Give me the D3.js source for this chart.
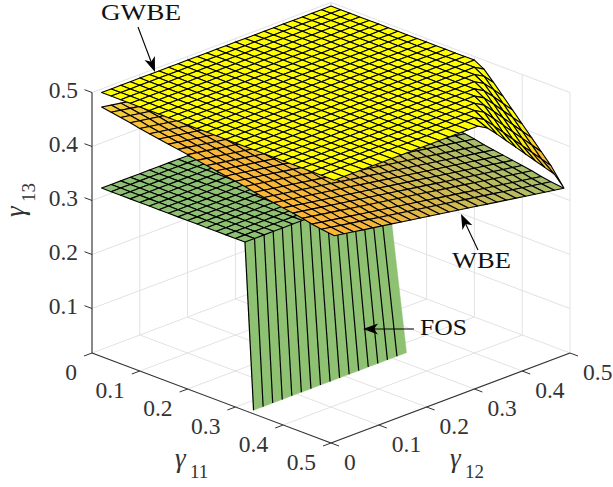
<!DOCTYPE html>
<html>
<head>
<meta charset="utf-8">
<script src="https://cdnjs.cloudflare.com/ajax/libs/d3/7.8.5/d3.min.js"></script>
<style>
  html, body { margin: 0; padding: 0; background: #fff; }
  svg { display: block; }
  text { font-family: "Liberation Serif", serif; }
</style>
</head>
<body>
<svg id="chart" width="613" height="487"></svg>
<script>
// grid of the three surfaces
const gamma11 = [.01,.03,.05,.07,.09,.11,.13,.15,.17,.19,.21,.23,.25,.27,.29,.31,.33,.35,.37,.39,.41,.43,.45,.47,.497];
const gamma12 = [.01,.03,.05,.07,.09,.11,.13,.15,.17,.19,.21,.23,.25,.27,.29,.31,.33,.35,.37,.39,.41,.43,.45,.47,.49];

const gamma11Ticks = [0, .1, .2, .3, .4, .5];
const gamma12Ticks = [0, .1, .2, .3, .4, .5];
const gamma13Ticks = [.1, .2, .3, .4, .5];
const gamma13Floor = .0176;

// rows follow gamma11, columns follow gamma12
const gwbe = [
[.5,.5,.5,.5,.5,.5,.5,.5,.5,.5,.5,.5,.5,.5,.5,.5,.5,.5,.5,.5,.5,.5,.5,.5,.5],
[.5,.5,.5,.5,.5,.5,.5,.5,.5,.5,.5,.5,.5,.5,.5,.5,.5,.5,.5,.5,.5,.5,.5,.5,.5],
[.5,.5,.5,.5,.5,.5,.5,.5,.5,.5,.5,.5,.5,.5,.5,.5,.5,.5,.5,.5,.5,.5,.5,.5,.5],
[.5,.5,.5,.5,.5,.5,.5,.5,.5,.5,.5,.5,.5,.5,.5,.5,.5,.5,.5,.5,.5,.5,.5,.5,.5],
[.5,.5,.5,.5,.5,.5,.5,.5,.5,.5,.5,.5,.5,.5,.5,.5,.5,.5,.5,.5,.5,.5,.5,.5,.5],
[.5,.5,.5,.5,.5,.5,.5,.5,.5,.5,.5,.5,.5,.5,.5,.5,.5,.5,.5,.5,.5,.5,.5,.5,.5],
[.5,.5,.5,.5,.5,.5,.5,.5,.5,.5,.5,.5,.5,.5,.5,.5,.5,.5,.5,.5,.5,.5,.5,.5,.5],
[.5,.5,.5,.5,.5,.5,.5,.5,.5,.5,.5,.5,.5,.5,.5,.5,.5,.5,.5,.5,.5,.5,.5,.5,.5],
[.5,.5,.5,.5,.5,.5,.5,.5,.5,.5,.5,.5,.5,.5,.5,.5,.5,.5,.5,.5,.5,.5,.5,.5,.5],
[.5,.5,.5,.5,.5,.5,.5,.5,.5,.5,.5,.5,.5,.5,.5,.5,.5,.5,.5,.5,.5,.5,.5,.5,.5],
[.5,.5,.5,.5,.5,.5,.5,.5,.5,.5,.5,.5,.5,.5,.5,.5,.5,.5,.5,.5,.5,.5,.5,.5,.5],
[.5,.5,.5,.5,.5,.5,.5,.5,.5,.5,.5,.5,.5,.5,.5,.5,.5,.5,.5,.5,.5,.5,.5,.5,.5],
[.5,.5,.5,.5,.5,.5,.5,.5,.5,.5,.5,.5,.5,.5,.5,.5,.5,.5,.5,.5,.5,.5,.5,.5,.5],
[.5,.5,.5,.5,.5,.5,.5,.5,.5,.5,.5,.5,.5,.5,.5,.5,.5,.5,.5,.5,.5,.5,.5,.5,.5],
[.5,.5,.5,.5,.5,.5,.5,.5,.5,.5,.5,.5,.5,.5,.5,.5,.5,.5,.5,.5,.5,.5,.5,.5,.5],
[.5,.5,.5,.5,.5,.5,.5,.5,.5,.5,.5,.5,.5,.5,.5,.5,.5,.5,.5,.5,.5,.5,.5,.5,.5],
[.5,.5,.5,.5,.5,.5,.5,.5,.5,.5,.5,.5,.5,.5,.5,.5,.5,.5,.5,.5,.5,.5,.5,.5,.49],
[.5,.5,.5,.5,.5,.5,.5,.5,.5,.5,.5,.5,.5,.5,.5,.5,.5,.5,.5,.5,.5,.5,.5,.49,.472],
[.5,.5,.5,.5,.5,.5,.5,.5,.5,.5,.5,.5,.5,.5,.5,.5,.5,.5,.5,.5,.5,.5,.49,.472,.453],
[.5,.5,.5,.5,.5,.5,.5,.5,.5,.5,.5,.5,.5,.5,.5,.5,.5,.5,.5,.5,.5,.49,.472,.453,.434],
[.5,.5,.5,.5,.5,.5,.5,.5,.5,.5,.5,.5,.5,.5,.5,.5,.5,.5,.5,.5,.49,.472,.453,.434,.415],
[.5,.5,.5,.5,.5,.5,.5,.5,.5,.5,.5,.5,.5,.5,.5,.5,.5,.5,.5,.49,.472,.453,.434,.415,.396],
[.5,.5,.5,.5,.5,.5,.5,.5,.5,.5,.5,.5,.5,.5,.5,.5,.5,.5,.49,.472,.453,.434,.415,.396,.377],
[.5,.5,.5,.5,.5,.5,.5,.5,.5,.5,.5,.5,.5,.5,.5,.5,.5,.49,.472,.453,.434,.415,.396,.377,.358],
[.5,.5,.5,.5,.5,.5,.5,.5,.5,.5,.5,.5,.5,.5,.5,.5,.49,.472,.453,.434,.415,.396,.377,.358,.326]
];

const wbe = [
[.473,.470,.467,.464,.461,.458,.455,.452,.449,.446,.443,.440,.437,.434,.431,.428,.425,.422,.419,.416,.413,.410,.407,.404,.401],
[.470,.467,.464,.461,.458,.455,.452,.449,.446,.443,.440,.437,.434,.431,.428,.425,.422,.419,.416,.413,.410,.407,.404,.401,.398],
[.467,.464,.461,.458,.455,.452,.449,.446,.443,.440,.437,.434,.431,.428,.425,.422,.419,.416,.413,.410,.407,.404,.401,.398,.395],
[.464,.461,.458,.455,.452,.449,.446,.443,.440,.437,.434,.431,.428,.425,.422,.419,.416,.413,.410,.407,.404,.401,.398,.395,.392],
[.460,.457,.454,.451,.448,.445,.442,.439,.436,.433,.430,.427,.424,.421,.418,.415,.412,.409,.406,.403,.400,.397,.394,.391,.388],
[.457,.454,.451,.448,.445,.442,.439,.436,.433,.430,.427,.424,.421,.418,.415,.412,.409,.406,.403,.400,.397,.394,.391,.388,.385],
[.454,.451,.448,.445,.442,.439,.436,.433,.430,.427,.424,.421,.418,.415,.412,.409,.406,.403,.400,.397,.394,.391,.388,.385,.382],
[.451,.448,.445,.442,.439,.436,.433,.430,.427,.424,.421,.418,.415,.412,.409,.406,.403,.400,.397,.394,.391,.388,.385,.382,.379],
[.448,.445,.442,.439,.436,.433,.430,.427,.424,.421,.418,.415,.412,.409,.406,.403,.400,.397,.394,.391,.388,.385,.382,.379,.376],
[.445,.442,.439,.436,.433,.430,.427,.424,.421,.418,.415,.412,.409,.406,.403,.400,.397,.394,.391,.388,.385,.382,.379,.376,.373],
[.441,.438,.435,.432,.429,.426,.423,.420,.417,.414,.411,.408,.405,.402,.399,.396,.393,.390,.387,.384,.381,.378,.375,.372,.369],
[.438,.435,.432,.429,.426,.423,.420,.417,.414,.411,.408,.405,.402,.399,.396,.393,.390,.387,.384,.381,.378,.375,.372,.369,.366],
[.435,.432,.429,.426,.423,.420,.417,.414,.411,.408,.405,.402,.399,.396,.393,.390,.387,.384,.381,.378,.375,.372,.369,.366,.363],
[.432,.429,.426,.423,.420,.417,.414,.411,.408,.405,.402,.399,.396,.393,.390,.387,.384,.381,.378,.375,.372,.369,.366,.363,.360],
[.429,.426,.423,.420,.417,.414,.411,.408,.405,.402,.399,.396,.393,.390,.387,.384,.381,.378,.375,.372,.369,.366,.363,.360,.357],
[.426,.423,.420,.417,.414,.411,.408,.405,.402,.399,.396,.393,.390,.387,.384,.381,.378,.375,.372,.369,.366,.363,.360,.357,.354],
[.422,.419,.416,.413,.410,.407,.404,.401,.398,.395,.392,.389,.386,.383,.380,.377,.374,.371,.368,.365,.362,.359,.356,.353,.350],
[.419,.416,.413,.410,.407,.404,.401,.398,.395,.392,.389,.386,.383,.380,.377,.374,.371,.368,.365,.362,.359,.356,.353,.350,.347],
[.416,.413,.410,.407,.404,.401,.398,.395,.392,.389,.386,.383,.380,.377,.374,.371,.368,.365,.362,.359,.356,.353,.350,.347,.344],
[.413,.410,.407,.404,.401,.398,.395,.392,.389,.386,.383,.380,.377,.374,.371,.368,.365,.362,.359,.356,.353,.350,.347,.344,.341],
[.410,.407,.404,.401,.398,.395,.392,.389,.386,.383,.380,.377,.374,.371,.368,.365,.362,.359,.356,.353,.350,.347,.344,.341,.338],
[.407,.404,.401,.398,.395,.392,.389,.386,.383,.380,.377,.374,.371,.368,.365,.362,.359,.356,.353,.350,.347,.344,.341,.338,.335],
[.403,.400,.397,.394,.391,.388,.385,.382,.379,.376,.373,.370,.367,.364,.361,.358,.355,.352,.349,.346,.343,.340,.337,.334,.331],
[.400,.397,.394,.391,.388,.385,.382,.379,.376,.373,.370,.367,.364,.361,.358,.355,.352,.349,.346,.343,.340,.337,.334,.331,.328],
[.397,.394,.391,.388,.385,.382,.379,.376,.373,.370,.367,.364,.361,.358,.355,.352,.349,.346,.343,.340,.337,.334,.331,.328,.325]
];

// FOS is a flat shelf that drops to the floor along a wall
const fosShelf = .323;
const fosShelfRows = 16;
const fosColumns = 17;
const fosWallTop = [.31,.31,.31,.309,.308,.307,.306,.305,.303,.301,.299,.297,.295,.293,.291,.289,.287];
const fosWallBottom = [.328,.328,.328,.328,.328,.328,.328,.328,.328,.328,.328,.328,.328,.328,.328,.328,.328];

const svg = d3.select("#chart");

// oblique view: left corner of the floor is (gamma11, gamma12) = (0, 0)
const corner = { x: 92, y: 353 };
const sideX = d3.scaleLinear().domain([0, .5]).range([0, 239]);
const sideY = d3.scaleLinear().domain([0, .5]).range([0, 90]);
const up = d3.scaleLinear().domain([gamma13Floor, .5]).range([0, 260.5]);
const px = (a, b, z) => [corner.x + sideX(a) + sideX(b), corner.y + sideY(a) - sideY(b) - up(z)];

const line = d3.line();
const seg = (g, p, q, color, w) => g.append("path").attr("d", line([p, q]))
  .attr("fill", "none").attr("stroke", color).attr("stroke-width", w);

// grid on floor and back walls
const grid = svg.append("g");
const gridColor = "#e2e2e2";
gamma11Ticks.forEach(a => {
  seg(grid, px(a, 0, gamma13Floor), px(a, .5, gamma13Floor), gridColor, 1);
  seg(grid, px(a, .5, gamma13Floor), px(a, .5, .5), gridColor, 1);
});
gamma12Ticks.forEach(b => {
  seg(grid, px(0, b, gamma13Floor), px(.5, b, gamma13Floor), gridColor, 1);
  seg(grid, px(0, b, gamma13Floor), px(0, b, .5), gridColor, 1);
});
gamma13Ticks.forEach(z => {
  seg(grid, px(0, 0, z), px(0, .5, z), gridColor, 1);
  seg(grid, px(0, .5, z), px(.5, .5, z), gridColor, 1);
});

function drawSurface(rows, columns, zAt, colorAt) {
  const g = svg.append("g");
  for (let i = 0; i < rows - 1; i++) {
    for (let j = columns - 2; j >= 0; j--) {
      const pts = [
        px(gamma11[i], gamma12[j], zAt(i, j)),
        px(gamma11[i + 1], gamma12[j], zAt(i + 1, j)),
        px(gamma11[i + 1], gamma12[j + 1], zAt(i + 1, j + 1)),
        px(gamma11[i], gamma12[j + 1], zAt(i, j + 1))
      ];
      g.append("path").attr("d", line(pts) + "Z")
        .attr("fill", colorAt(i, j))
        .attr("stroke", "#000").attr("stroke-width", 1.1).attr("stroke-linejoin", "round");
    }
  }
}

// FOS
const fosGreen = "#8fc173";
const wall = svg.append("g");
for (let j = 0; j < fosColumns - 1; j++) {
  wall.append("path").attr("d", line([
    px(fosWallTop[j], gamma12[j], fosShelf),
    px(fosWallBottom[j], gamma12[j], gamma13Floor),
    px(fosWallBottom[j + 1], gamma12[j + 1], gamma13Floor),
    px(fosWallTop[j + 1], gamma12[j + 1], fosShelf)
  ]) + "Z").attr("fill", fosGreen).attr("stroke", fosGreen).attr("stroke-width", .4);
}
for (let j = 0; j < fosColumns - 1; j++) {
  seg(wall, px(fosWallTop[j], gamma12[j], fosShelf), px(fosWallBottom[j], gamma12[j], gamma13Floor), "#000", 1.2);
}
drawSurface(fosShelfRows, fosColumns, () => fosShelf, () => fosGreen);

// WBE
const wbeWarm = d3.scaleLinear().domain([0, .15, .5]).range(["#f6d038", "#fdb935", "#fdb635"]);
const wbeCool = d3.scaleLinear().domain([0, .15, .3, .4, .49]).range([0, .2, .55, .8, 1]);
drawSurface(gamma11.length, gamma12.length, (i, j) => wbe[i][j],
  (i, j) => d3.interpolateRgb(wbeWarm(gamma11[i]), "#a4bd6e")(wbeCool(gamma12[j])));

// GWBE
const gwbeShade = d3.scaleLinear().domain([.33, .37, .43, .5]).range(["#d8b455", "#f5b33c", "#ffff00", "#ffff00"]).clamp(true);
drawSurface(gamma11.length, gamma12.length, (i, j) => gwbe[i][j], (i, j) => gwbeShade(gwbe[i][j + 1]));

// axes
const axisColor = "#333";
const tickFormat = d => d === 0 ? "0" : String(d);
const axes = svg.append("g");
const labelAttrs = s => s.attr("font-size", 23.5).attr("fill", "#333");

seg(axes, px(0, 0, gamma13Floor), px(0, 0, .5), axisColor, 1.1);
seg(axes, px(0, 0, gamma13Floor), px(.5, 0, gamma13Floor), axisColor, 1.1);
seg(axes, px(.5, 0, gamma13Floor), px(.5, .5, gamma13Floor), axisColor, 1.1);

gamma13Ticks.forEach(z => {
  const p = px(0, 0, z);
  seg(axes, p, [p[0] - 7.5, p[1] - 2.8], axisColor, 1);
  axes.append("text").attr("x", 78).attr("y", p[1] + 5).attr("text-anchor", "end").text(tickFormat(z)).call(labelAttrs);
});
gamma11Ticks.forEach(a => {
  const p = px(a, 0, gamma13Floor);
  seg(axes, p, [p[0] - 8, p[1] + 3], axisColor, 1);
  axes.append("text").attr("x", p[0] - 15).attr("y", p[1] + 27).attr("text-anchor", "end").text(tickFormat(a)).call(labelAttrs);
});
gamma12Ticks.forEach(b => {
  const p = px(.5, b, gamma13Floor);
  seg(axes, p, [p[0] + 8, p[1] + 3], axisColor, 1);
  axes.append("text").attr("x", p[0] + 13).attr("y", p[1] + 27).attr("text-anchor", "start").text(tickFormat(b)).call(labelAttrs);
});

function axisTitle(x, y, sub, rotate) {
  const t = axes.append("text").attr("font-size", 27).attr("fill", "#333")
    .attr("transform", `translate(${x},${y})` + (rotate ? " rotate(-90)" : ""));
  t.append("tspan").attr("font-style", "italic").text("γ");
  t.append("tspan").attr("font-size", 19).attr("x", 15).attr("dy", 11).text(sub);
}
axisTitle(175, 467, "11", false);
axisTitle(450, 467, "12", false);
axisTitle(24, 217, "13", true);

// annotations
function arrow(x1, y1, x2, y2) {
  const a = Math.atan2(y2 - y1, x2 - x1), len = 15, half = 5.5, notch = 11;
  const ux = Math.cos(a), uy = Math.sin(a), nx = -uy, ny = ux;
  const g = svg.append("g");
  seg(g, [x1, y1], [x2 - ux * notch, y2 - uy * notch], "#000", 1.1);
  g.append("path").attr("d", line([
    [x2, y2],
    [x2 - ux * len + nx * half, y2 - uy * len + ny * half],
    [x2 - ux * notch, y2 - uy * notch],
    [x2 - ux * len - nx * half, y2 - uy * len - ny * half]
  ]) + "Z").attr("fill", "#000");
}
const note = (s, x, y, w) => svg.append("text").attr("x", x).attr("y", y).attr("font-size", 22.5)
  .attr("textLength", w).attr("lengthAdjust", "spacingAndGlyphs").attr("fill", "#111").text(s);

note("GWBE", 101, 20, 80);
arrow(138, 27, 155, 72);
note("WBE", 452, 268, 59);
arrow(478, 250, 461, 214);
note("FOS", 420, 335, 47);
arrow(414, 329, 363, 329);
</script>
</body>
</html>
